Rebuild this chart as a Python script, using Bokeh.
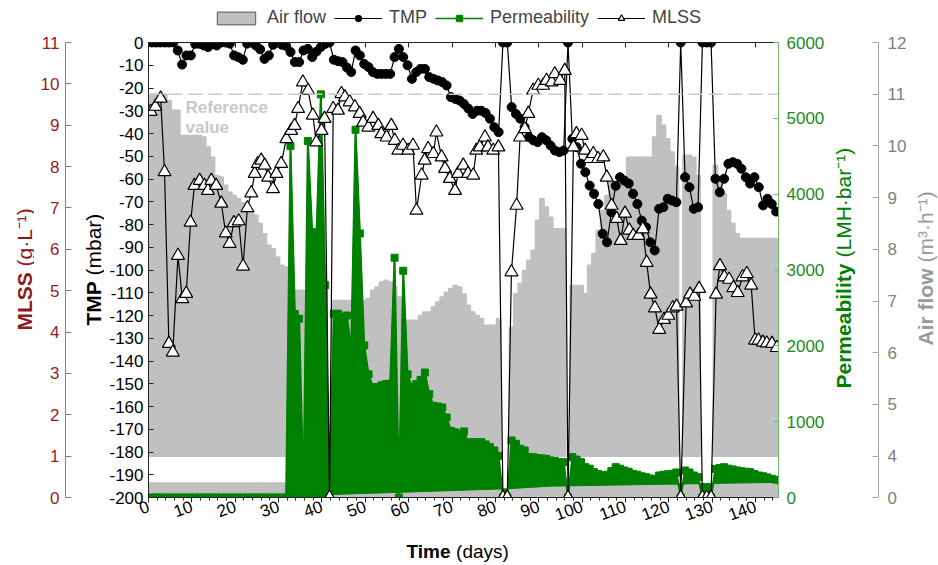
import math
from bokeh.plotting import figure
from bokeh.layouts import row, column
from bokeh.models import (ColumnDataSource, Range1d, LinearAxis, SingleIntervalTicker,
                          FixedTicker, Label, Legend, LegendItem, Span, Plot)
from bokeh.embed import file_html
from bokeh.resources import INLINE

# ---------------- data (one record per day) ----------------
days = [d + 0.75 for d in range(146)]

tmp_mbar = [
    0, 0, 0, 0, 0, 0, -3.5, -9.7, -5.7, -5.7,
    -0.6, -0.6, -1.3, -2.0, -0.6, -1.3, 0, 0, -0.5, -5.7,
    -6.5, -7.6, -0.5, 0, -1.3, -3.0, -7.2, -5.7, -1.0, 0,
    -1.0, -1.5, -4.2, -8.6, -8.6, -3.5, -2.8, -6.4, -4.0, -2.0,
    -0.6, 0, -7.6, -8.2, -8.6, -11.0, -13.0, -3.5, -5.7, -9.4,
    -10.8, -13.0, -13.8, -13.8, -13.8, -13.8, -6.4, -2.8, -6.4, -10.0,
    -16.0, -13.0, -11.6, -11.6, -15.2, -16.0, -16.7, -17.4, -18.9, -24.0,
    -24.8, -25.5, -27.0, -29.0, -31.4, -30.0, -30.0, -31.0, -33.5, -37.2,
    -39.4, 0, 0, -28.4, -31.4, -33.5, -37.2, -41.6, -43.0, -43.8,
    -41.6, -43.0, -45.3, -47.5, -48.2, -47.5, 0, -42.3, -46.0, -53.3,
    -57.0, -62.9, -66.5, -71.0, -84.1, -87.8, -74.6, -63.0, -59.2, -60.7,
    -62.0, -66.5, -71.0, -78.3, -81.2, -87.8, -91.4, -73.1, -72.4, -68.7,
    -69.5, -70.2, 0, -59.2, -63.6, -73.1, -72.4, 0, 0, 0,
    -59.9, -65.8, -59.9, -53.3, -52.6, -53.3, -55.5, -59.2, -62.0, -59.2,
    -63.6, -71.6, -68.7, -71.0, -74.3,
]

air_flow = [
    11.0, 11.0, 11.0, 11.0, 10.88, 10.69, 10.69, 10.2, 10.2, 10.2,
    10.2, 10.2, 10.17, 9.98, 9.78, 9.43, 9.40, 9.24, 9.11, 9.04,
    8.98, 8.9, 8.85, 8.75, 8.66, 8.5, 8.3, 8.08, 8.01, 7.85,
    7.69, 7.66, 7.21, 7.21, 7.21, 7.21, 7.21, 7.21, 7.21, 7.21,
    7.21, None, 7.01, 7.01, 7.01, 7.01, 7.01, 7.01, 7.01, 7.01,
    7.05, 7.21, 7.27, 7.37, 7.40, 7.37, 7.27, 7.08, 6.63, 6.63,
    6.63, 6.63, 6.72, 6.79, 6.79, 6.89, 6.98, 7.08, 7.17, 7.24,
    7.30, 7.27, 7.14, 6.92, 6.79, 6.72, 6.66, 6.53, 6.53, 6.53,
    6.66, None, None, 6.50, 7.14, 7.34, 7.59, 7.79, 7.98, 8.56,
    8.98, 8.82, 8.62, 8.40, 8.40, 8.40, None, 7.30, 7.30, 7.30,
    7.14, 7.69, 7.92, 8.37, 8.75, 9.04, 9.30, 9.30, 9.30, 9.30,
    9.78, 9.78, 9.78, 9.78, 9.78, 9.78, 10.17, 10.59, 10.40, 10.14,
    9.88, 9.6, None, 9.82, 9.82, 9.78, 9.43, None, None, None,
    9.62, 9.40, 9.08, 8.75, 8.5, 8.3, 8.21, 8.21, 8.21, 8.21,
    8.21, 8.21, 8.21, 8.21, 8.21, 8.21,
]

permeability = [
    0, 0, 0, 0, 0, 0, 0, 0, 0, 0,
    0, 0, 0, 0, 0, 0, 0, 0, 0, 0,
    0, 0, 0, 0, 0, 0, 0, 0, 0, 0,
    0, 0, 4634, 2420, 2357, 0, 4700, 3500, 3450, 5316,
    2800, 0, 2423, 2423, 2379, 2400, 1935, 4850, 3482, 2005,
    1625, 1455, 1455, 1480, 1495, 1500, 3162, 0, 2990, 1625,
    1455, 1495, 1550, 1648, 1363, 1209, 1200, 1187, 1055, 879,
    860, 835, 871, 725, 730, 730, 730, 700, 664, 620,
    550, 0, 0, 752, 708, 642, 620, 532, 532, 520,
    515, 510, 488, 480, 466, 466, 0, 532, 500, 466,
    400, 380, 334, 310, 290, 300, 350, 400, 380, 356,
    340, 312, 300, 280, 268, 250, 240, 290, 300, 305,
    312, 330, 0, 356, 330, 290, 268, 0, 0, 0,
    378, 390, 400, 380, 370, 356, 345, 340, 334, 310,
    290, 280, 265, 246, 235, 224,
]

# lower envelope of the dense permeability record
perm_base_day = [31.75, 40.75, 42.75, 58.75, 82.75, 92.75, 145.75]
perm_base_val = [0, 0, 40, 70, 115, 150, 200]

mlss_day = [
    0.5, 1.6, 2.8, 3.7, 4.7, 5.6, 6.8, 7.8, 8.7, 9.7,
    10.6, 11.8, 12.9, 13.7, 14.5, 15.6, 16.8, 17.8, 18.7, 19.7,
    20.8, 21.8, 22.8, 23.7, 24.5, 25.2, 26.0, 26.8, 27.6, 28.7,
    29.5, 30.6, 31.8, 32.9, 33.7, 34.5, 35.6, 36.8, 37.9, 38.7,
    39.9, 40.6, 41.75, 42.6, 43.7, 44.5, 45.3, 46.4, 47.6, 48.7,
    49.5, 50.7, 51.8, 53.0, 53.7, 54.9, 56.0, 56.8, 57.6, 58.7,
    59.9, 61.0, 61.8, 63.0, 63.7, 64.5, 65.7, 66.4, 67.6, 68.4,
    69.5, 70.7, 71.4, 72.6, 73.7, 74.9, 75.6, 76.4, 77.6, 78.3,
    79.5, 80.7, 81.75, 82.75, 83.7, 84.9, 85.7, 86.8, 87.6, 88.7,
    89.9, 91.0, 91.8, 93.0, 93.7, 94.9, 96.0, 96.75, 98.0, 98.7,
    99.9, 100.7, 101.8, 102.6, 103.7, 104.9, 105.7, 106.8, 108.0, 108.9,
    109.9, 110.9, 111.8, 113.0, 114.0, 114.9, 115.8, 116.8, 117.8, 118.9,
    119.9, 120.9, 121.8, 122.75, 124.0, 124.9, 125.9, 127.0, 127.75, 128.75,
    129.75, 130.9, 131.8, 132.8, 133.9, 134.9, 135.9, 137.0, 138.0, 139.0,
    139.9, 140.7, 141.7, 142.6, 143.8, 144.9,
]
mlss_gl = [
    9.33, 9.45, 9.65, 7.87, 3.72, 3.51, 5.85, 4.8, 4.93, 6.65,
    7.54, 7.66, 7.54, 7.42, 7.66, 7.54, 7.11, 6.39, 6.14, 6.64,
    6.68, 5.59, 7.0, 7.36, 7.83, 8.07, 8.15, 8.03, 7.74, 7.46,
    7.83, 8.07, 8.67, 8.87, 8.99, 9.4, 10.04, 9.84, 9.24, 8.59,
    8.87, 9.16, 0, 9.4, 9.36, 9.76, 9.68, 9.56, 9.44, 9.28,
    9.07, 8.95, 9.16, 8.99, 8.79, 8.71, 8.99, 8.63, 8.39, 8.51,
    8.39, 8.51, 6.94, 7.79, 8.15, 8.43, 8.31, 8.83, 8.23, 7.95,
    7.71, 7.42, 7.83, 8.03, 7.83, 7.79, 8.39, 8.47, 8.71, 8.47,
    8.39, 8.47, 0, 0, 5.45, 7.06, 8.71, 8.91, 9.28, 9.84,
    9.96, 9.96, 10.08, 10.04, 10.24, 10.08, 10.32, 0, 8.47, 8.79,
    8.75, 8.39, 8.19, 8.31, 8.19, 8.23, 7.74, 7.06, 6.74, 6.21,
    6.87, 6.46, 6.33, 6.33, 6.49, 5.68, 4.91, 4.58, 4.06, 4.3,
    4.4, 4.58, 4.62, 0, 4.7, 4.91, 4.86, 5.05, 0, 0,
    0, 4.91, 5.6, 5.33, 5.27, 5.07, 4.95, 5.33, 5.41, 5.13,
    3.8, 3.8, 3.75, 3.73, 3.72, 3.62,
]

tmp_tick_labels = {v: str(v) for v in range(-200, 1, 10)}   # plain hyphen minus
air_reference = 11.0
air_ticks = [3.2, 4, 5, 6, 7, 8, 9, 10, 11, 12]
air_tick_labels = {3.2: "0"}

# ---------------- layout constants (page pixels) ----------------
FONT = "Liberation Sans"
GREY = "#c0c0c0"
GREEN = "#008000"
RED = "#8b1a1a"
TOP_H, BOT_H = 30, 30          # legend strip / x-title strip
ROW_H = 565 - TOP_H - BOT_H    # 505
TOP, BOT = 12, 38              # borders of the row figures -> frames span page y 42..497
FRAME_BOTTOM = TOP_H + ROW_H - BOT   # 497
W0, WA, WP, WB = 34, 70, 725, 83      # widths of the figures in the row
WC = 938 - W0 - WA - WP - WB
XA, XP, XB, XC = W0, W0 + WA, W0 + WA + WP, W0 + WA + WP + WB
up = math.pi / 2
HAS_FRAME_ALIGN = "frame_align" in Plot.properties()


def no_align(f):
    if HAS_FRAME_ALIGN:
        f.frame_align = False


def blank_fig(width, height, y_range=None, **borders):
    f = figure(width=width, height=height, output_backend="svg", toolbar_location=None,
               x_range=Range1d(0, 1), y_range=y_range if y_range is not None else Range1d(0, 1),
               x_axis_location=None, y_axis_location=None, **borders)
    f.xgrid.visible = False
    f.ygrid.visible = False
    f.outline_line_color = None
    f.background_fill_color = "white"
    f.border_fill_color = "white"
    no_align(f)
    return f


def style_axis(ax, color, label_color):
    ax.axis_line_color = color
    ax.major_tick_line_color = color
    ax.major_label_text_color = label_color
    ax.major_label_text_font = FONT
    ax.major_label_text_font_size = "17px"
    ax.minor_tick_line_color = None


def text_label(text, sx, sy, size, color, bold=False, angle=0.0):
    return Label(x=sx, y=sy, x_units="screen", y_units="screen", text=text,
                 text_font=FONT, text_font_size=f"{size}px",
                 text_font_style="bold" if bold else "normal",
                 text_color=color, angle=angle, text_align="left", text_baseline="middle")


# ---------------- main figure ----------------
p = figure(width=WP, height=ROW_H, output_backend="svg", toolbar_location=None,
           x_range=Range1d(0, 145.3), y_range=Range1d(-200, 0),
           x_axis_location=None, y_axis_location=None,
           min_border_left=148 - XP, min_border_right=XB - 778,
           min_border_top=TOP, min_border_bottom=BOT)
p.xgrid.visible = False
p.ygrid.visible = False
p.outline_line_color = None
no_align(p)
p.extra_y_ranges = {"mlss": Range1d(0, 11), "perm": Range1d(0, 6000), "air": Range1d(3.2, 12)}

xa = LinearAxis(ticker=SingleIntervalTicker(interval=10, num_minor_ticks=5))
style_axis(xa, "#222222", "black")
xa.minor_tick_line_color = "#222222"
xa.major_tick_in, xa.major_tick_out = 0, 5
xa.minor_tick_in, xa.minor_tick_out = 0, 3
xa.major_label_orientation = 0.35
xa.major_label_standoff = 3
p.add_layout(xa, "below")

xt = LinearAxis(ticker=SingleIntervalTicker(interval=10, num_minor_ticks=0))
style_axis(xt, "#222222", "black")
xt.major_tick_in, xt.major_tick_out = 5, 0
xt.major_label_overrides = {v: "" for v in range(0, 150, 10)}
xt.major_label_text_font_size = "1px"
xt.major_label_standoff = 0
p.add_layout(xt, "above")

ta = LinearAxis(ticker=SingleIntervalTicker(interval=10, num_minor_ticks=0))
style_axis(ta, "#222222", "black")
ta.major_tick_in, ta.major_tick_out = 5, 0
ta.major_label_standoff = 5
ta.major_label_overrides = tmp_tick_labels
p.add_layout(ta, "left")

pa = LinearAxis(y_range_name="perm", ticker=SingleIntervalTicker(interval=1000, num_minor_ticks=0))
style_axis(pa, "#6cbf6c", "#1a8a1a")
pa.major_tick_in, pa.major_tick_out = 5, 0
pa.major_label_standoff = 8
p.add_layout(pa, "right")

air_days = [d for d, a in zip(days, air_flow) if a is not None]
air_vals = [a for a in air_flow if a is not None]
air_src = ColumnDataSource(dict(day=air_days, air=air_vals))

p.vbar(x="day", top="air", bottom=4, width=1.0, source=air_src, y_range_name="air",
       fill_color=GREY, line_color=GREY, line_width=1.5)
p.vbar(x="day", top=3.48, bottom=3.2, width=1.0, source=air_src, y_range_name="air",
       fill_color=GREY, line_color=GREY, line_width=1.5)

start = 31
poly_x = days[start:] + perm_base_day[::-1]
poly_y = permeability[start:] + perm_base_val[::-1]
p.patch(poly_x, poly_y, y_range_name="perm", fill_color=GREEN, line_color=GREEN, line_width=1)
p.line(days, permeability, y_range_name="perm", line_color=GREEN, line_width=2)
p.scatter(days, permeability, y_range_name="perm", marker="square", size=7,
          fill_color=GREEN, line_color=GREEN)

p.add_layout(Span(location=air_reference, dimension="width", y_range_name="air",
                  line_color="#c8c8c8", line_dash="14 6", line_width=1.5))

p.line(days[:len(tmp_mbar)], tmp_mbar, line_color="black", line_width=1.2)
p.scatter(days[:len(tmp_mbar)], tmp_mbar, marker="circle", size=9,
          fill_color="black", line_color="black")

p.line(mlss_day, mlss_gl, y_range_name="mlss", line_color="black", line_width=1.2)
p.scatter(mlss_day, mlss_gl, y_range_name="mlss", marker="triangle", size=13,
          fill_color="white", line_color="black", line_width=1.2)

# "Reference value" inside the frame (frame left = page x 148, bottom = page y 497)
p.add_layout(text_label("Reference", 185 - 148, FRAME_BOTTOM - 107, 17, "#c8c8c8", bold=True))
p.add_layout(text_label("value", 185 - 148, FRAME_BOTTOM - 127, 17, "#c8c8c8", bold=True))

# ---------------- legend strip (page y 0-30) ----------------
ftop = blank_fig(938, TOP_H, min_border_left=0, min_border_right=0, min_border_top=0, min_border_bottom=0)
# legend samples: one point each, placed outside the strip's visible range
far = [-10]
lg_air = ftop.vbar(x=far, top=far, width=1, fill_color=GREY, line_color="#555555", line_width=1)
lg_tmp_l = ftop.line(far, far, line_color="black", line_width=1.2)
lg_tmp_s = ftop.scatter(far, far, marker="circle", size=9, fill_color="black", line_color="black")
lg_perm_l = ftop.line(far, far, line_color=GREEN, line_width=1.5)
lg_perm_s = ftop.scatter(far, far, marker="square", size=7, fill_color=GREEN, line_color=GREEN)
lg_mlss_l = ftop.line(far, far, line_color="black", line_width=1.2)
lg_mlss_s = ftop.scatter(far, far, marker="triangle", size=13, fill_color="white",
                         line_color="black", line_width=1.2)
legend = Legend(items=[
    LegendItem(label="Air flow", renderers=[lg_air]),
    LegendItem(label="TMP", renderers=[lg_tmp_l, lg_tmp_s]),
    LegendItem(label="Permeability", renderers=[lg_perm_l, lg_perm_s]),
    LegendItem(label="MLSS", renderers=[lg_mlss_l, lg_mlss_s]),
], orientation="horizontal", location=(212, 2))
legend.label_text_font = FONT
legend.label_text_font_size = "18px"
legend.glyph_width = 48
legend.glyph_height = 16
legend.label_height = 16
legend.label_standoff = 7
legend.spacing = 8
legend.padding = 0
legend.margin = 0
legend.border_line_color = None
legend.background_fill_alpha = 0
ftop.add_layout(legend, "center")

# ---------------- MLSS title (page x 0-34) ----------------
f0 = blank_fig(W0, ROW_H, min_border_left=0, min_border_right=0, min_border_top=TOP, min_border_bottom=BOT)
f0.add_layout(text_label("MLSS", 23.5, FRAME_BOTTOM - 330, 21, RED, bold=True, angle=up))
f0.add_layout(text_label("(g\u00b7L\u207b\u00b9)", 23.5, FRAME_BOTTOM - 266, 21, RED, angle=up))

# ---------------- MLSS axis + TMP title (page x 34-104) ----------------
fa = blank_fig(WA, ROW_H, y_range=Range1d(0, 11), min_border_left=65 - XA, min_border_right=0,
               min_border_top=TOP, min_border_bottom=BOT)
ma = LinearAxis(ticker=SingleIntervalTicker(interval=1, num_minor_ticks=0))
style_axis(ma, "#b86a6a", "#9b1c1c")
ma.major_tick_in, ma.major_tick_out = 6, 0
ma.major_label_standoff = 6
fa.add_layout(ma, "left")
fa.add_layout(text_label("TMP", 93 - 65, FRAME_BOTTOM - 325, 21, "black", bold=True, angle=up))
fa.add_layout(text_label("(mbar)", 93 - 65, FRAME_BOTTOM - 275, 21, "black", angle=up))

# ---------------- Permeability title + Air flow axis ----------------
fb = blank_fig(WB, ROW_H, y_range=Range1d(3.2, 12), min_border_left=0, min_border_right=XC - 878,
               min_border_top=TOP, min_border_bottom=BOT)
aa = LinearAxis(ticker=FixedTicker(ticks=air_ticks))
style_axis(aa, "#a6a6a6", "#808080")
aa.major_tick_in, aa.major_tick_out = 6, 0
aa.major_label_standoff = 9
aa.major_label_overrides = air_tick_labels
fb.add_layout(aa, "right")
fb.add_layout(text_label("Permeability", 842.5 - XB, FRAME_BOTTOM - 388, 21, GREEN, bold=True, angle=up))
fb.add_layout(text_label("(LMH\u00b7bar\u207b\u00b9)", 842.5 - XB, FRAME_BOTTOM - 257, 21, GREEN, angle=up))

# ---------------- Air flow title ----------------
fc = blank_fig(WC, ROW_H, min_border_left=0, min_border_right=0, min_border_top=TOP, min_border_bottom=BOT)
fc.add_layout(text_label("Air flow", 924.5 - XC, FRAME_BOTTOM - 345, 21, "#999999", bold=True, angle=up))
fc.add_layout(text_label("(m\u00b3\u00b7h\u207b\u00b9)", 924.5 - XC, FRAME_BOTTOM - 262, 21, "#999999", angle=up))

# ---------------- x title strip (page y 535-565) ----------------
fd = blank_fig(938, BOT_H, min_border_left=0, min_border_right=0, min_border_top=0, min_border_bottom=0)
fd.add_layout(text_label("Time", 406, 565 - 551, 19, "black", bold=True))
fd.add_layout(text_label("(days)", 455.6, 565 - 551, 19, "black"))

layout = column(ftop, row(f0, fa, p, fb, fc, spacing=0), fd, spacing=0)
open("out.html", "w").write(file_html(layout, INLINE))
